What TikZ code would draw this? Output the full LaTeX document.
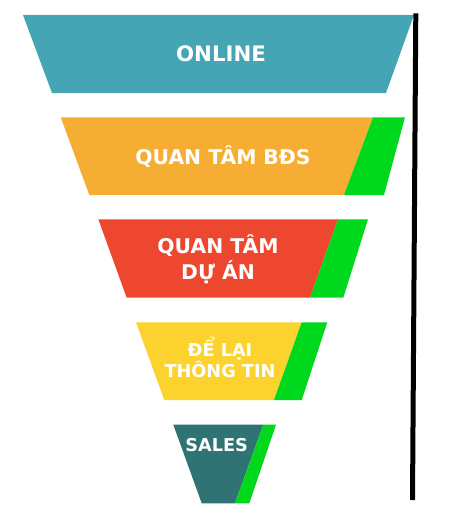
\documentclass[tikz,border=0pt]{standalone}
\usepackage{fontspec}
\setmainfont{DejaVu Sans}
\begin{document}
\begin{tikzpicture}[x=1pt,y=-1pt,
  lbl/.style={text=white,font=\bfseries\fontsize{20.3}{26}\selectfont,align=center,inner sep=0pt},
  lbls/.style={text=white,font=\bfseries\fontsize{17.7}{21.6}\selectfont,align=center,inner sep=0pt},
  greenbar/.style={fill=cgreen,draw=none}]
\definecolor{cteal}{HTML}{45A5B5}
\definecolor{corange}{HTML}{F5AE33}
\definecolor{cred}{HTML}{EE4730}
\definecolor{cyellow}{HTML}{FCD22F}
\definecolor{cdark}{HTML}{2F7374}
\definecolor{cgreen}{HTML}{00D81E}
\useasboundingbox (0,0) rectangle (469,519);
% level 1
\fill[cteal] (23,15) -- (414,15) -- (386,93) -- (52,93) -- cycle;
\node[lbl,font=\bfseries\fontsize{21.3}{26}\selectfont] (online) at (221,54) {ONLINE};
% level 2
\fill[corange] (60.7,117.3) -- (373,117.3) -- (344,195) -- (89.3,195) -- cycle;
\fill[greenbar] (373,117.3) -- (405,117.3) -- (384,195) -- (344,195) -- cycle;
\node[lbl] (bds) at (223,157) {QUAN TÂM BĐS};
% level 3
\fill[cred] (98.3,219.3) -- (338,219.3) -- (310,297.7) -- (126.7,297.7) -- cycle;
\fill[greenbar] (338,219.3) -- (368,219.3) -- (343.3,297.7) -- (310,297.7) -- cycle;
\node[lbl] (duan) at (218,259) {QUAN TÂM\\DỰ ÁN};
% level 4
\fill[cyellow] (136,322.3) -- (301.7,322.3) -- (274,400) -- (164.3,400) -- cycle;
\fill[greenbar] (301.7,322.3) -- (327.3,322.3) -- (301.7,400) -- (274,400) -- cycle;
\node[lbls] (thongtin) at (220,357.5) {ĐỂ LẠI\\THÔNG TIN};
% level 5
\fill[cdark] (173.3,424.7) -- (263.3,424.7) -- (235,503.3) -- (201.7,503.3) -- cycle;
\fill[greenbar] (263.3,424.7) -- (276,424.7) -- (249.3,503.3) -- (235,503.3) -- cycle;
\node[lbls] (sales) at (216.7,445) {SALES};
% vertical line
\coordinate (ltop) at (415.8,13.3);
\coordinate (lbot) at (412.5,500);
\draw[line width=5pt,black] (ltop) -- (lbot);
\end{tikzpicture}
\end{document}
